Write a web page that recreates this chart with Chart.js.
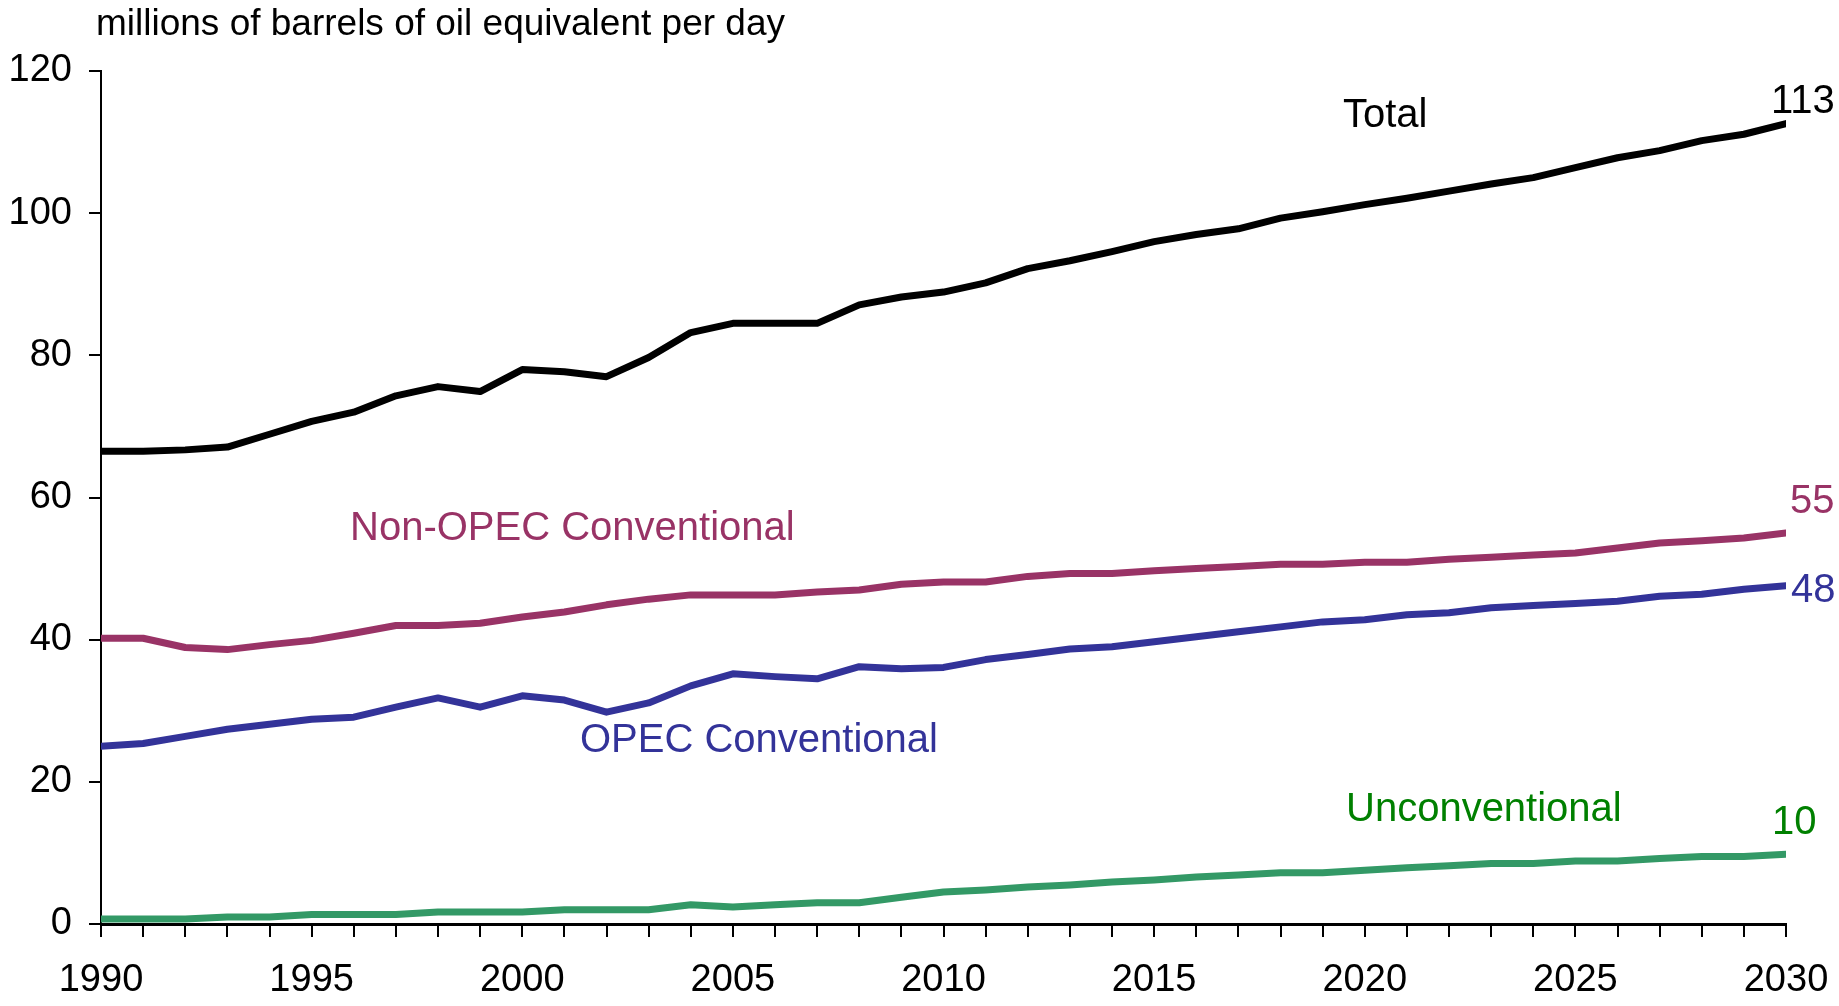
<!DOCTYPE html>
<html>
<head>
<meta charset="utf-8">
<title>Oil supply</title>
<script src="https://cdn.jsdelivr.net/npm/chart.js@4.4.1/dist/chart.umd.min.js"></script>
<style>
  body { margin: 0; background: #fff; }
  #wrap { width: 1839px; height: 1006px; }
</style>
</head>
<body>
<div id="wrap"><canvas id="my-chart" width="1839" height="1006"></canvas></div>
<script>
var years = [];
for (var y = 1990; y <= 2030; y++) years.push(y);

var yTicks = [0, 20, 40, 60, 80, 100, 120];
var xLabelYears = [1990, 1995, 2000, 2005, 2010, 2015, 2020, 2025, 2030];

var total = [66.5, 66.5, 66.7, 67.1, 68.9, 70.7, 72.0, 74.3, 75.6, 74.9,
  78.0, 77.7, 77.0, 79.7, 83.2, 84.5, 84.5, 84.5, 87.1, 88.2,
  88.9, 90.2, 92.2, 93.3, 94.6, 96.0, 97.0, 97.8, 99.3, 100.2,
  101.2, 102.1, 103.1, 104.1, 105.0, 106.4, 107.8, 108.8, 110.2, 111.1,
  112.6];

var nonOpec = [40.2, 40.2, 38.9, 38.6, 39.3, 39.9, 40.9, 42.0, 42.0, 42.3,
  43.2, 43.9, 44.9, 45.7, 46.3, 46.3, 46.3, 46.7, 47.0, 47.8,
  48.1, 48.1, 48.9, 49.3, 49.3, 49.7, 50.0, 50.3, 50.6, 50.6,
  50.9, 50.9, 51.3, 51.6, 51.9, 52.2, 52.9, 53.6, 53.9, 54.3,
  55.0];

var opec = [25.0, 25.4, 26.4, 27.4, 28.1, 28.8, 29.1, 30.5, 31.8, 30.5,
  32.1, 31.5, 29.8, 31.1, 33.5, 35.2, 34.8, 34.5, 36.2, 35.9,
  36.1, 37.2, 37.9, 38.7, 39.0, 39.7, 40.4, 41.1, 41.8, 42.5,
  42.8, 43.5, 43.8, 44.5, 44.8, 45.1, 45.4, 46.1, 46.4, 47.1,
  47.6];

var unconv = [0.7, 0.7, 0.7, 1.0, 1.0, 1.35, 1.35, 1.35, 1.7, 1.7,
  1.7, 2.0, 2.0, 2.0, 2.7, 2.4, 2.7, 3.0, 3.0, 3.75,
  4.5, 4.8, 5.2, 5.5, 5.9, 6.2, 6.6, 6.9, 7.2, 7.2,
  7.55, 7.9, 8.2, 8.5, 8.5, 8.85, 8.85, 9.2, 9.5, 9.5,
  9.8];

var FONT = '"Liberation Sans", Arial, sans-serif';

function points(values) {
  return years.map(function (yr, i) { return { x: yr, y: values[i] }; });
}

function series(label, values, color) {
  return {
    label: label,
    data: points(values),
    borderColor: color,
    borderWidth: 7,
    borderCapStyle: "round",
    borderJoinStyle: "round",
    pointRadius: 0,
    tension: 0,
  };
}

// text labels drawn on top of the chart
var textLabels = {
  id: "textLabels",
  afterDatasetsDraw: function (chart) {
    var ctx = chart.ctx;
    var items = [
      ["millions of barrels of oil equivalent per day", 96, 35, "#000", 37],
      ["Total", 1343, 127, "#000", 40],
      ["113", 1771, 113, "#000", 40],
      ["Non-OPEC Conventional", 350, 540, "#993366", 40],
      ["55", 1790, 513, "#993366", 40],
      ["48", 1791, 602, "#333399", 40],
      ["OPEC Conventional", 580, 752, "#333399", 40],
      ["Unconventional", 1346, 821, "#008000", 40],
      ["10", 1772, 834, "#008000", 40],
    ];
    ctx.save();
    ctx.textAlign = "left";
    ctx.textBaseline = "alphabetic";
    items.forEach(function (it) {
      ctx.font = it[4] + "px " + FONT;
      ctx.fillStyle = it[3];
      ctx.fillText(it[0], it[1], it[2]);
    });
    ctx.restore();
  },
};

var ctx = document.getElementById("my-chart").getContext("2d");
var myChart = new Chart(ctx, {
  type: "line",
  data: {
    datasets: [
      series("Unconventional", unconv, "#339966"),
      series("OPEC Conventional", opec, "#333399"),
      series("Non-OPEC Conventional", nonOpec, "#993366"),
      series("Total", total, "#000000"),
    ],
  },
  options: {
    responsive: false,
    animation: false,
    devicePixelRatio: 1,
    layout: { padding: { top: 71, right: 53, left: 0, bottom: 0 } },
    plugins: { legend: { display: false }, tooltip: { enabled: false } },
    scales: {
      x: {
        type: "linear",
        min: 1990,
        max: 2030,
        afterFit: function (scale) {
          scale.height = 82;
          scale.paddingLeft = 0;
          scale.paddingRight = 0;
        },
        border: { display: true, color: "#000", width: 3 },
        grid: { drawOnChartArea: false, drawTicks: true, tickLength: 13, color: "#000", lineWidth: 2 },
        ticks: {
          stepSize: 1,
          autoSkip: false,
          maxRotation: 0,
          padding: 21,
          color: "#000",
          font: { family: FONT, size: 38 },
          callback: function (v) { return xLabelYears.indexOf(v) >= 0 ? String(v) : ""; },
        },
      },
      y: {
        min: 0,
        max: 120,
        afterFit: function (scale) {
          scale.width = 101;
          scale.paddingTop = 0;
          scale.paddingBottom = 0;
        },
        border: { display: true, color: "#000", width: 2 },
        grid: { drawOnChartArea: false, drawTicks: true, tickLength: 12, color: "#000", lineWidth: 2 },
        ticks: {
          stepSize: 20,
          padding: 17,
          color: "#000",
          font: { family: FONT, size: 38 },
          callback: function (v) { return yTicks.indexOf(v) >= 0 ? String(v) : ""; },
        },
      },
    },
  },
  plugins: [textLabels],
});
</script>
</body>
</html>
